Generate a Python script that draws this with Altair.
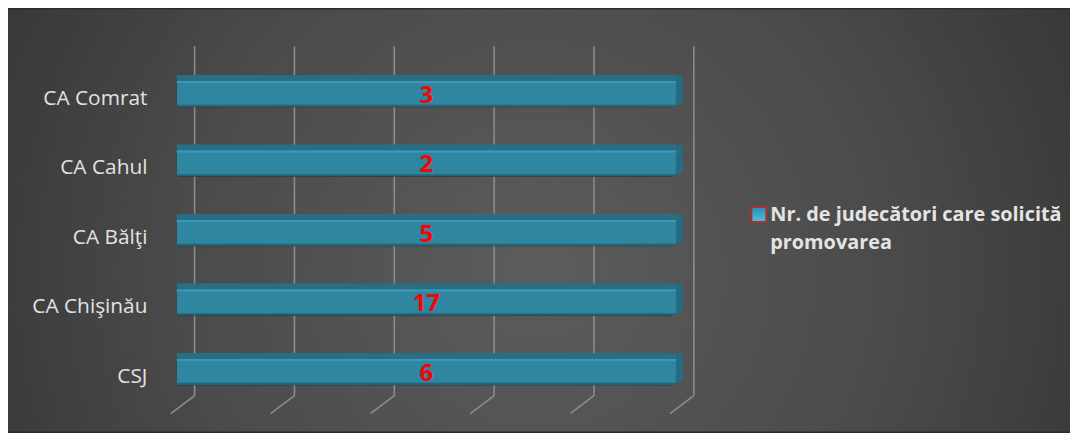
import altair as alt
import pandas as pd

categories = ["CA Comrat", "CA Cahul", "CA Bălţi", "CA Chişinău", "CSJ"]
values = [3, 2, 5, 17, 6]
series_name = "Nr. de judecători care solicită promovarea"
grid_ticks = [0, 0.2, 0.4, 0.6, 0.8, 1.0]

df = pd.DataFrame({"category": categories, "value": values, "series": series_name})
grid_df = pd.DataFrame({"t": grid_ticks})
bg_df = pd.DataFrame({"k": [0]})
legend_df = pd.DataFrame({"series": [series_name]})

W, H = 503, 350
PL, PT, PR, PB = 170, 47, 397, 28

FONT = "Open Sans"
BAR = "#2e86a0"

base = alt.Chart(df).transform_joinaggregate(
    total="sum(value)", groupby=["category"]
).transform_calculate(
    share="datum.value / datum.total", mid="datum.value / datum.total / 2"
)

xs = alt.Scale(domain=[0, 1], nice=False, zero=True)
ys = alt.Scale(domain=categories, paddingInner=0, paddingOuter=0)

y_enc = alt.Y(
    "category:N", sort=categories, scale=ys, title=None,
    axis=alt.Axis(ticks=False, domain=False, labelPadding=30, labelOffset=8,
                  labelFont=FONT, labelFontSize=21, labelColor="#e2e2e2",
                  labelLimit=200, zindex=2),
)

background = alt.Chart(bg_df).mark_rect(
    fill=alt.Gradient(
        gradient="radial",
        stops=[alt.GradientStop(color="#5c5c5c", offset=0),
               alt.GradientStop(color="#4a4a4a", offset=0.45),
               alt.GradientStop(color="#292929", offset=1)],
        x1=0.5, y1=0.55, r1=0, x2=0.5, y2=0.55, r2=0.75,
    )
).encode(
    x=alt.value(-PL), x2=alt.value(W + PR),
    y=alt.value(-PT), y2=alt.value(H + PB),
)

grid_back = alt.Chart(grid_df).mark_rule(
    color="#8c8c8c", strokeWidth=1.6, xOffset=18
).encode(
    x=alt.X("t:Q", scale=xs, axis=None),
    y=alt.value(-10), y2=alt.value(342),
)

grid_floor = alt.Chart(grid_df).mark_rule(
    color="#8c8c8c", strokeWidth=1.6, xOffset=18, x2Offset=-6
).encode(
    x=alt.X("t:Q", scale=xs, axis=None),
    x2="t:Q",
    y=alt.value(342), y2=alt.value(360),
)

shadow = base.mark_bar(size=30, color="#1e1e1e", opacity=0.5, xOffset=-4, yOffset=2,
                       cornerRadius=3).encode(
    x=alt.X("share:Q", scale=xs, axis=None), y=y_enc,
)

bar = base.mark_bar(size=32, cornerRadius=2, color=BAR).encode(
    x=alt.X("share:Q", scale=xs, axis=None),
    y=y_enc,
)

top_face = base.mark_bar(size=6, color="#286f85", yOffset=-13).encode(
    x=alt.X("share:Q", scale=xs, axis=None), y=y_enc,
)
highlight = base.mark_bar(size=2, color="#3a9ab6", yOffset=-9).encode(
    x=alt.X("share:Q", scale=xs, axis=None), y=y_enc,
)
bottom_edge = base.mark_bar(size=2, color="#236578", yOffset=15).encode(
    x=alt.X("share:Q", scale=xs, axis=None), y=y_enc,
)
cap = base.mark_bar(size=30, color="#246c82", x2Offset=7, yOffset=-1,
                    cornerRadius=4).encode(
    x=alt.X("share:Q", scale=xs, axis=None), x2="share:Q", y=y_enc,
)

labels = base.mark_text(
    color="#ff0000", font=FONT, fontWeight="bold", fontSize=24, dy=5,
    baseline="middle", align="center",
).encode(
    x=alt.X("mid:Q", scale=xs, axis=None), y=y_enc, text="value:Q",
)

# legend (symbol + two-line label)
leg_symbol = alt.Chart(legend_df).mark_rect(
    fill=alt.Gradient(
        gradient="linear", x1=0, y1=0, x2=0, y2=1,
        stops=[alt.GradientStop(color="#2a8fb0", offset=0),
               alt.GradientStop(color="#4cc0e0", offset=1)],
    ),
    stroke="#a83232", strokeWidth=2,
).encode(
    x=alt.value(579), x2=alt.value(594), y=alt.value(152), y2=alt.value(167),
)
leg_text = alt.Chart(legend_df).transform_calculate(
    label="substring(datum.series, 0, 31) + '\\n' + substring(datum.series, 32)"
).mark_text(
    font=FONT, fontSize=20, fontWeight="bold", color="#e4e4e4",
    align="left", baseline="alphabetic", lineBreak="\n", lineHeight=28,
).encode(
    x=alt.value(598), y=alt.value(166), text="label:N",
)

chart = alt.layer(
    background, grid_back, grid_floor, shadow, cap, bar, top_face, highlight,
    bottom_edge, labels, leg_symbol, leg_text,
).properties(
    width=W, height=H,
    autosize=alt.AutoSizeParams(type="none"),
    padding={"left": PL, "top": PT, "right": PR, "bottom": PB},
    background="#2b2b2b",
).configure_view(stroke=None)

chart.save("out.html", embed_options={"renderer": "svg", "actions": False})
